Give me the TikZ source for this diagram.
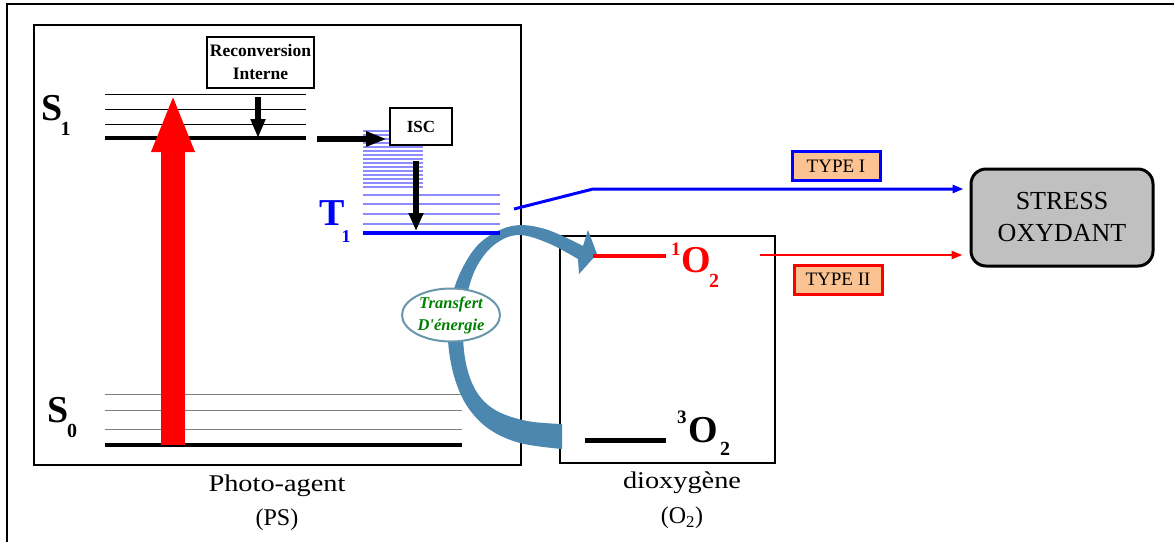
\documentclass[tikz,border=0pt]{standalone}
\usepackage{fontspec}
\setmainfont[Ligatures=TeXOff]{Liberation Serif}
\usetikzlibrary{arrows.meta,shapes.geometric,calc}
\definecolor{steel}{RGB}{75,135,175}
\definecolor{ellborder}{RGB}{105,150,170}
\definecolor{darkgreen}{RGB}{0,128,0}
\definecolor{peach}{RGB}{250,195,145}
\definecolor{stressgrey}{RGB}{192,192,192}
\definecolor{paleblue}{RGB}{140,140,255}
\begin{document}
\begin{tikzpicture}[x=1pt,y=-1pt,
  frame/.style={draw, line width=2pt, inner sep=0pt},
  thinlvl/.style={line width=1pt},
  greylvl/.style={line width=1pt, draw=black!50},
  bluethin/.style={line width=1.2pt, draw=paleblue},
  biglbl/.style={font=\bfseries\fontsize{38}{38}\selectfont, anchor=base west, inner sep=0pt},
  sublbl/.style={font=\bfseries\fontsize{20}{20}\selectfont, anchor=base west, inner sep=0pt},
  labelbox/.style={draw, line width=2pt, fill=white, inner sep=0pt, align=center, font=\bfseries\fontsize{17.5}{23}\selectfont},
  typebox/.style={line width=3pt, fill=peach, inner sep=0pt, minimum width=88pt, minimum height=29pt, font=\fontsize{19}{19}\selectfont},
  blackarrow/.style={line width=6.5pt, -{Triangle[length=19pt,width=14pt]}},
]
\useasboundingbox (0,0) rectangle (1174,542);

% outer frame (top and left edges)
\draw[line width=1.2pt] (7,542) coordinate (fbl) -- (7,4) coordinate (ftl) -- (1174,4) coordinate (ftr);

% the two main frames
\node[frame, minimum width=487pt, minimum height=440pt] (ps) at (277.5,245) {};
\node[frame, minimum width=215pt, minimum height=227pt] (oxy) at (667.5,349.5) {};

% S1 vibrational levels
\foreach \y in {94,109,124} \draw[thinlvl] (105,\y) -- (306,\y);
\draw[line width=3.5pt] (105,138) coordinate (s1a) -- (306,138) coordinate (s1b);

% S0 vibrational levels
\foreach \y in {394,410,429} \draw[greylvl] (105,\y) -- (462,\y);
\draw[line width=3.5pt] (105,445) coordinate (s0a) -- (462,445) coordinate (s0b);

% absorption
\coordinate (absfoot) at (173,445);
\coordinate (abstop) at (173,94);
\draw[red, line width=24pt, -{Triangle[length=58pt,width=39pt]}] (absfoot) -- (abstop);

% triplet manifold
\draw[bluethin] \foreach \y in {131,135,...,187} {(363,\y) -- (423,\y)};
\draw[bluethin] \foreach \y in {195,204,214,224} {(363,\y) -- (500,\y)};

% boxes of the photo-agent part
\node[labelbox, minimum width=107pt, minimum height=51pt] (recon) at (260.5,62.5) {Reconversion\\Interne};
\node[labelbox, minimum width=62pt, minimum height=37pt, font=\bfseries\fontsize{17}{17}\selectfont] (isc) at (421,126.5) {ISC};

% internal conversion and intersystem crossing
\coordinate (icend) at (258,138);
\draw[blackarrow] ($(recon.south)+(-2.5,8)$) -- (icend);
\coordinate (iscin) at (317,139);
\draw[line width=6pt, -{Triangle[length=21pt,width=14pt]}, shorten >=2pt] (iscin) -- (iscin -| isc.west);
\coordinate (iscout) at (416,161);
\coordinate (t1top) at (416,231);
\draw[line width=6pt, -{Triangle[length=18pt,width=14pt]}] (iscout) -- (t1top);

% energy transfer arc from 3O2 up to 1O2
\fill[steel]
  plot[smooth, tension=0.6] coordinates {(562,449) (520,443) (489,429) (467,406) (454,376) (448,340) (450,305) (461,271) (481,242) (512,226) (545,229) (583,246)}
  -- (588,230) -- (597,254) -- (579,274)
  -- plot[smooth, tension=0.6] coordinates {(578,259) (548,243) (518,235) (494,245) (476,268) (466,300) (463,335) (467,368) (478,394) (497,411) (527,421) (562,424)}
  -- cycle;

% T1 level
\draw[blue, line width=4pt] (363,233) coordinate (t1a) -- (500,233) coordinate (t1b);

% oxygen levels
\draw[red, line width=4pt] (593,256) coordinate (o1a) -- (666,256) coordinate (o1b);
\draw[line width=5pt] (585,440) coordinate (o3a) -- (666,440) coordinate (o3b);

% energy transfer label
\node[ellipse, draw=ellborder, line width=2pt, fill=white, minimum width=98pt, minimum height=53pt, inner sep=0pt,
      align=center, text=darkgreen, font=\bfseries\itshape\fontsize{16.5}{22}\selectfont] (transfer) at (451,315) {Transfert\\D'énergie};

% state labels
\node[biglbl] (s1lbl) at (41,120) {S};
\node[sublbl] (s1sub) at (60.5,135) {1};
\node[biglbl] (s0lbl) at (47,422) {S};
\node[sublbl] (s0sub) at (67,437) {0};
\node[biglbl, text=blue] (t1lbl) at (319,225) {T};
\node[sublbl, text=blue, font=\bfseries\fontsize{18}{18}\selectfont] (t1sub) at (341.5,242) {1};

\node[sublbl, text=red, font=\bfseries\fontsize{19}{19}\selectfont] (o1sup) at (671,255) {1};
\node[biglbl, text=red] (o1lbl) at (681,272) {O};
\node[sublbl, text=red] (o1sub) at (709,287) {2};
\node[sublbl, font=\bfseries\fontsize{19}{19}\selectfont] (o3sup) at (677,423) {3};
\node[biglbl] (o3lbl) at (688,442) {O};
\node[sublbl] (o3sub) at (720,455) {2};

% captions
\node[font=\fontsize{24}{34}\selectfont, align=center, inner sep=0pt] (pscap) at (277,502.5) {\scalebox{1.18}[1]{Photo-agent}\\(PS)};
\node[font=\fontsize{24}{35}\selectfont, align=center, inner sep=0pt] (oxycap) at (682,500) {\scalebox{1.18}[1]{dioxygène}\\(O\textsubscript{2})};

% stress box and the two pathways
\node[draw, line width=3pt, rounded corners=15pt, fill=stressgrey, minimum width=182pt, minimum height=97pt, inner sep=0pt,
      align=center, font=\fontsize{26}{32}\selectfont] (stress) at (1062,217.5) {STRESS\\OXYDANT};

\coordinate (typeIstart) at (514,209);
\coordinate (typeIbend) at (593,189);
\draw[blue, line width=3pt, -{Triangle[length=11pt,width=8pt]}, shorten >=6pt] (typeIstart) -- (typeIbend) -- (typeIbend -| stress.west);
\coordinate (typeIIstart) at (760,255);
\draw[red, line width=2.5pt, -{Triangle[length=11pt,width=8pt]}, shorten >=7pt] (typeIIstart) -- (typeIIstart -| stress.west);

\node[typebox, draw=blue] (typeI) at (836,166) {TYPE I};
\node[typebox, draw=red] (typeII) at (838,279.5) {TYPE II};
\end{tikzpicture}
\end{document}
